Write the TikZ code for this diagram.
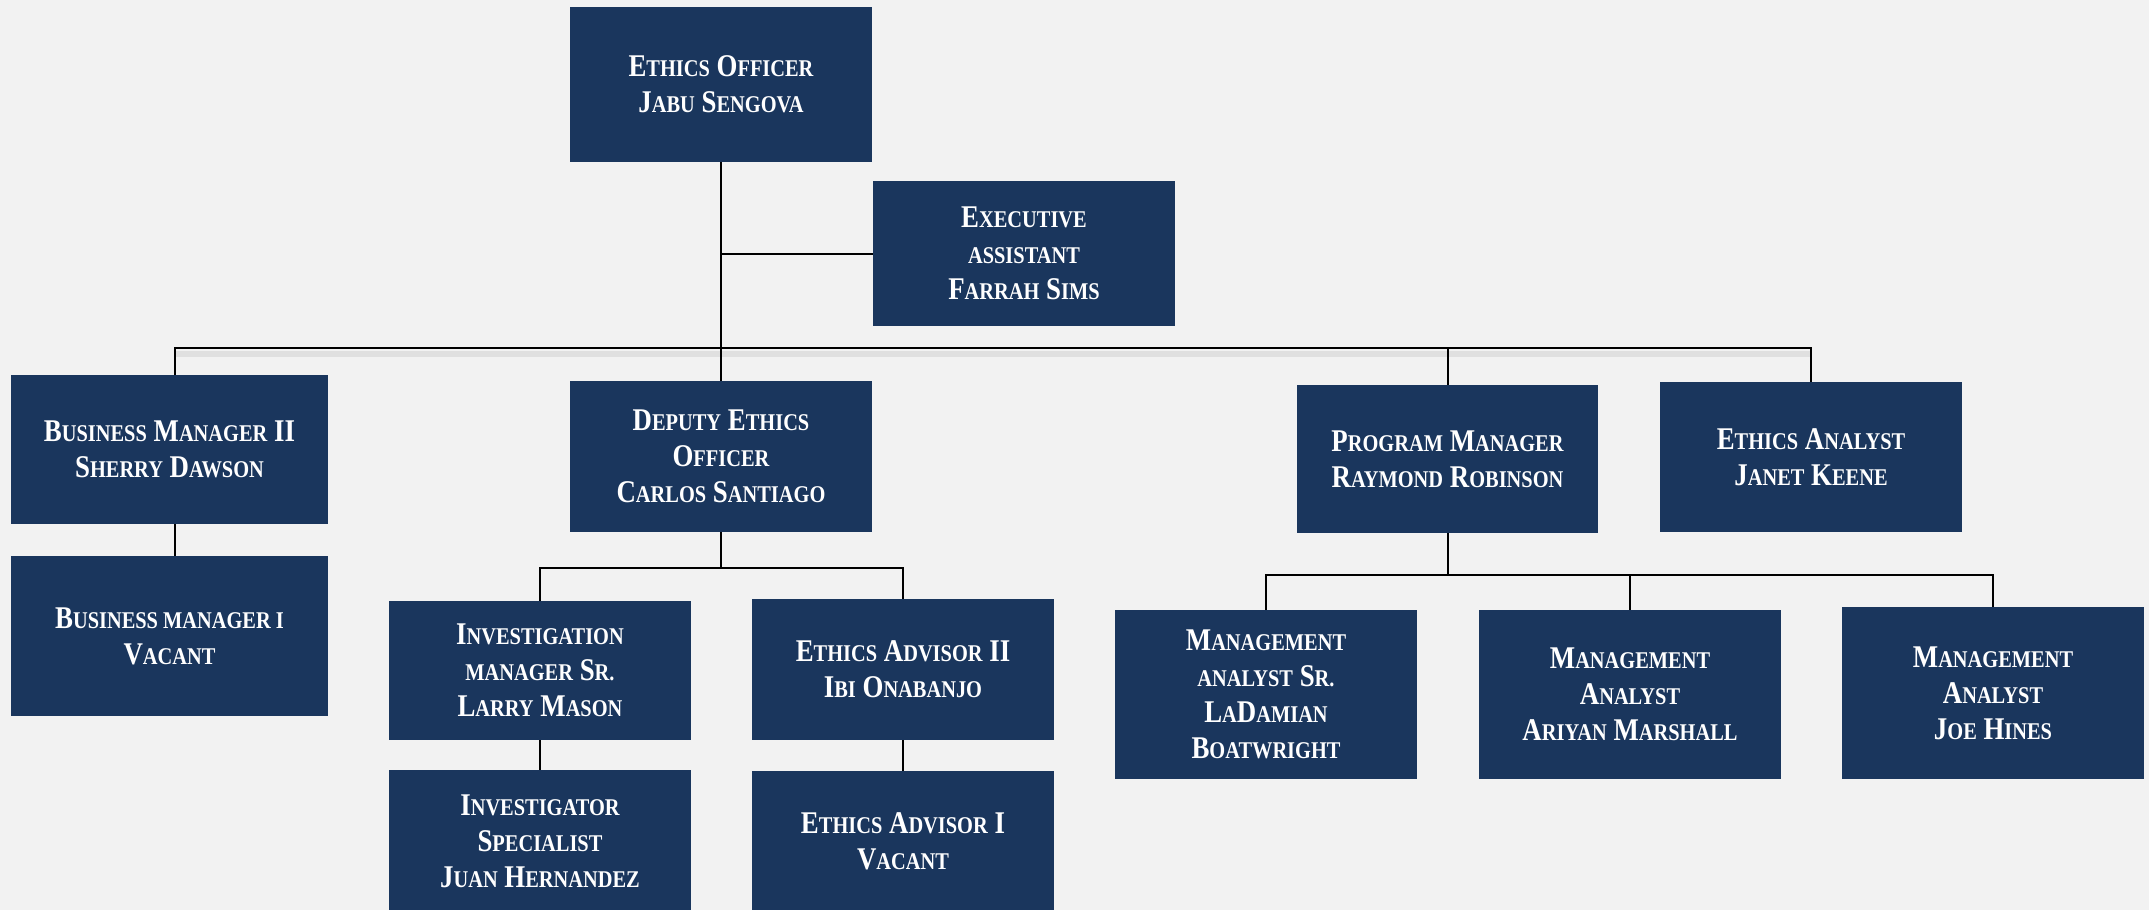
\documentclass[tikz,border=0pt]{standalone}
\usepackage{fontspec}
\setmainfont{Liberation Serif}[FakeStretch=0.85]
\newcommand\smc[1]{{\fontsize{12}{18}\selectfont\MakeUppercase{#1}}}
\definecolor{navy}{HTML}{1A365D}
\definecolor{bgc}{HTML}{F2F2F2}
\tikzset{
  box/.style={fill=navy, text=white, align=center, inner sep=0pt,
    font=\fontsize{15.8}{18}\selectfont\bfseries},
  conn/.style={draw=black, line width=1pt},
  shadeline/.style={draw=black!12, line width=3pt}
}
\newcommand\bx[6]{\node[box, minimum width=#4*0.5pt, minimum height=#5*0.5pt] (#1) at (#2,#3) {#6};}
\begin{document}
\begin{tikzpicture}[x=0.5pt,y=-0.5pt]
\fill[bgc] (0,0) rectangle (2149,910);
\useasboundingbox (0,0) rectangle (2149,910);
% boxes
\bx{eo}{721}{84.5}{302}{155}{E\smc{thics} O\smc{fficer}\\J\smc{abu} S\smc{engova}}
\bx{exa}{1024}{253.5}{302}{145}{E\smc{xecutive}\\\smc{assistant}\\F\smc{arrah} S\smc{ims}}
\bx{bm2}{169.5}{449.5}{317}{149}{B\smc{usiness} M\smc{anager} II\\S\smc{herry} D\smc{awson}}
\bx{bm1}{169.5}{636}{317}{160}{B\smc{usiness manager i}\\V\smc{acant}}
\bx{dep}{721}{456.5}{302}{151}{D\smc{eputy} E\smc{thics}\\O\smc{fficer}\\C\smc{arlos} S\smc{antiago}}
\bx{im}{540}{670.5}{302}{139}{I\smc{nvestigation}\\\smc{manager} S\smc{r.}\\L\smc{arry} M\smc{ason}}
\bx{ea2}{903}{669.5}{302}{141}{E\smc{thics} A\smc{dvisor} II\\I\smc{bi} O\smc{nabanjo}}
\bx{isp}{540}{841}{302}{142}{I\smc{nvestigator}\\S\smc{pecialist}\\J\smc{uan} H\smc{ernandez}}
\bx{ea1}{903}{841.5}{302}{141}{E\smc{thics} A\smc{dvisor} I\\V\smc{acant}}
\bx{pm}{1447.5}{459}{301}{148}{P\smc{rogram} M\smc{anager}\\R\smc{aymond} R\smc{obinson}}
\bx{ean}{1811}{457}{302}{150}{E\smc{thics} A\smc{nalyst}\\J\smc{anet} K\smc{eene}}
\bx{mas}{1266}{694.5}{302}{169}{M\smc{anagement}\\\smc{analyst} S\smc{r.}\\L\smc{a}D\smc{amian}\\B\smc{oatwright}}
\bx{maa}{1630}{694.5}{302}{169}{M\smc{anagement}\\A\smc{nalyst}\\A\smc{riyan} M\smc{arshall}}
\bx{mjh}{1993}{693}{302}{172}{M\smc{anagement}\\A\smc{nalyst}\\J\smc{oe} H\smc{ines}}
% bus coordinates
\coordinate (bus) at (0,348);
\coordinate (bus2) at (0,568);
\coordinate (bus3) at (0,575);
\coordinate (bmtop) at ([xshift=2.75pt]bm2.north);
\coordinate (bmbot) at ([xshift=2.75pt]bm2.south);
% faint shadow under the main bus
\draw[shadeline] ([yshift=-3pt]bmtop |- bus) -- ([yshift=-3pt]ean.north |- bus);
% connectors
\draw[conn] (eo.south) -- (dep.north);
\draw[conn] (exa.west) -- (exa.west -| eo.south);
\draw[conn] (bmtop) -- (bmtop |- bus) -- (ean.north |- bus) -- (ean.north);
\draw[conn] (pm.north) -- (pm.north |- bus);
\draw[conn] (bmbot) -- (bmbot |- bm1.north);
\draw[conn] (dep.south) -- (dep.south |- bus2);
\draw[conn] (im.north) -- (im.north |- bus2) -- (ea2.north |- bus2) -- (ea2.north);
\draw[conn] (im.south) -- (isp.north);
\draw[conn] (ea2.south) -- (ea1.north);
\draw[conn] (pm.south) -- (pm.south |- bus3);
\draw[conn] (mas.north) -- (mas.north |- bus3) -- (mjh.north |- bus3) -- (mjh.north);
\draw[conn] (maa.north) -- (maa.north |- bus3);
\end{tikzpicture}
\end{document}
